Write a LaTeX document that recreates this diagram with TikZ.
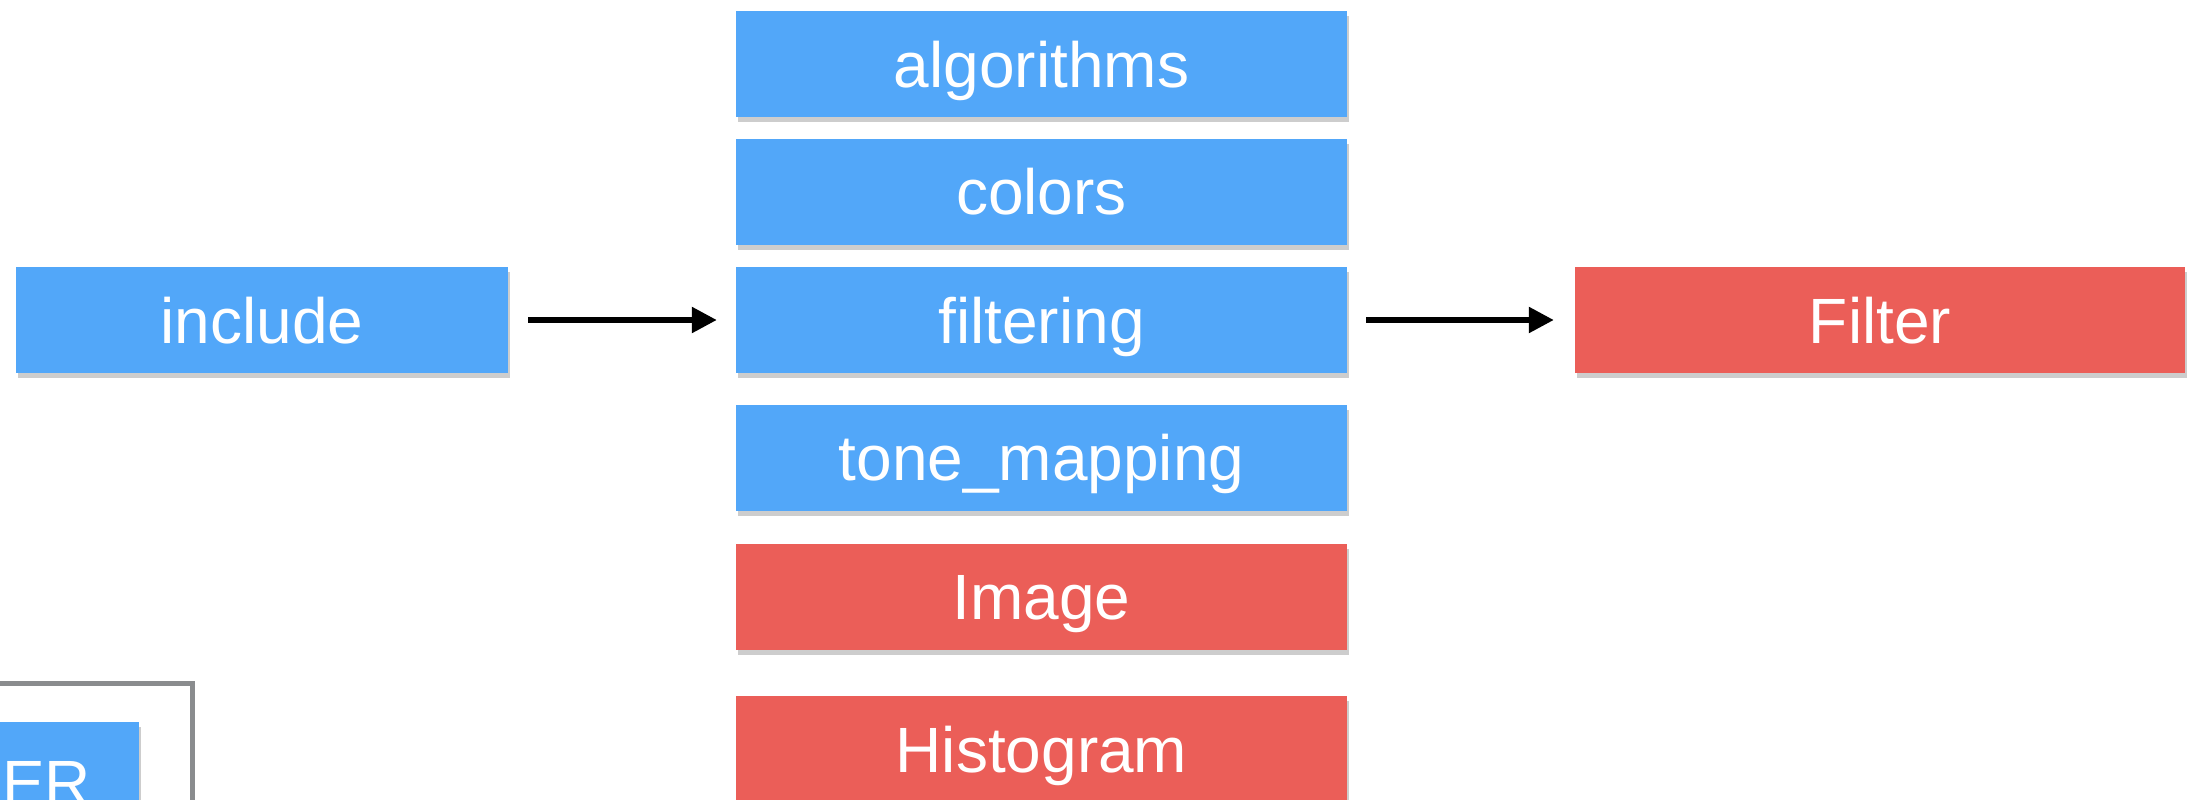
\documentclass[tikz,border=0pt]{standalone}
\usepackage{fontspec}
\setmainfont{Liberation Sans}
\usetikzlibrary{shadows,arrows.meta}
\definecolor{boxblue}{RGB}{82,167,249}
\definecolor{boxred}{RGB}{235,94,88}
\definecolor{framegray}{RGB}{138,140,142}
\tikzset{
  shade/.style={drop shadow={opacity=0.28,shadow xshift=2pt,shadow yshift=-5pt,fill=black!70}},
  boxtext/.style={text=white,font=\fontsize{64}{70}\selectfont,text height=46pt,text depth=0pt},
  bluebox/.style={rectangle,fill=boxblue,inner sep=0pt,shade,boxtext},
  redbox/.style={rectangle,fill=boxred,inner sep=0pt,shade,boxtext},
  midbox/.style={minimum width=611pt,minimum height=106pt},
  flow/.style={line width=5.5pt,-{Triangle[length=25pt,width=25pt]}}
}
\begin{document}
\begin{tikzpicture}[x=1pt,y=-1pt]
\useasboundingbox (0,0) rectangle (2203,800);
\begin{scope}
\clip (0,0) rectangle (2203,800);
\node[bluebox,minimum width=492pt,minimum height=106pt] (include) at (262,320) {include};
\node[bluebox,midbox] (algorithms) at (1041.5,64) {algorithms};
\node[bluebox,midbox] (colors) at (1041.5,191.5) {colors};
\node[bluebox,midbox] (filtering) at (1041.5,320) {filtering};
\node[bluebox,midbox] (tone) at (1041.5,457.5) {tone\_mapping};
\node[redbox,midbox] (image) at (1041.5,596.5) {Image};
\node[redbox,midbox] (histogram) at (1041.5,749) {Histogram};
\node[redbox,minimum width=610pt,minimum height=106pt] (filter) at (1880,320) {Filter};
\node[draw=framegray,line width=5pt,rectangle,minimum width=300pt,minimum height=200pt,inner sep=0pt] (frame) at (42,783) {};
\node[bluebox,minimum width=300pt,minimum height=200pt] (erbox) at (-11,822) {};
\node[anchor=base west,text=white,inner sep=0pt,font=\fontsize{64}{70}\selectfont] (ertext) at (2,805) {ER};
\end{scope}
\coordinate (a1s) at (528,320);
\coordinate (a2s) at (1366,320);
\draw[flow] (a1s) -- ([xshift=-19pt]filtering.west);
\draw[flow] (a2s) -- ([xshift=-21pt]filter.west);
\end{tikzpicture}
\end{document}
